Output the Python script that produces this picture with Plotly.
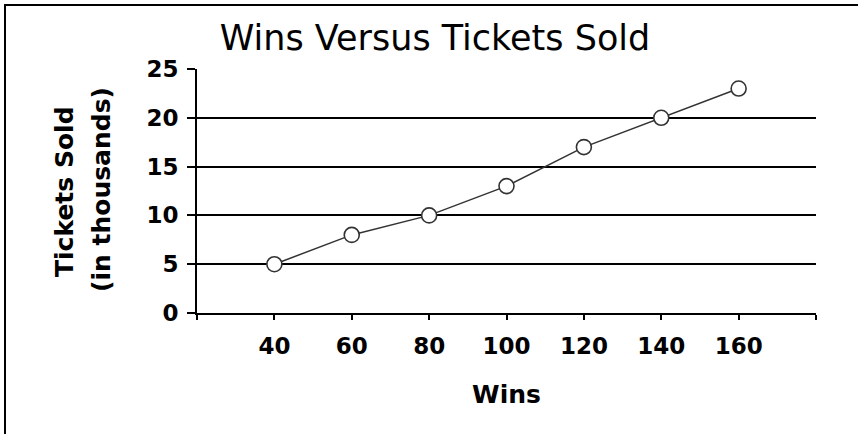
import plotly.graph_objects as go

wins = [40, 60, 80, 100, 120, 140, 160]
tickets = [5, 8, 10, 13, 17, 20, 23]
x_tickvals = [20, 40, 60, 80, 100, 120, 140, 160, 180]
x_ticktext = ["", "40", "60", "80", "100", "120", "140", "160", ""]
y_tickvals = [0, 5, 10, 15, 20, 25]

W, H = 858, 434
L, R, T, B = 197, 42, 69, 121
pw, ph = W - L - R, H - T - B

def px(x):
    return (x - L) / pw

def py(y):
    return (H - B - y) / ph

fig = go.Figure()
fig.add_trace(go.Scatter(
    x=wins, y=tickets, mode="lines+markers",
    line=dict(color="#333333", width=1.5),
    marker=dict(symbol="circle", size=15, color="white",
                line=dict(color="#333333", width=1.6)),
    showlegend=False, cliponaxis=False, hoverinfo="skip",
))

tick_font = dict(family="DejaVu Sans", size=23, color="black", weight="bold")
title_font = dict(family="DejaVu Sans", size=25, color="black", weight="bold")

fig.update_layout(
    width=W, height=H,
    margin=dict(l=L, r=R, t=T, b=B, pad=0),
    paper_bgcolor="white", plot_bgcolor="white",
    title=dict(text="Wins Versus Tickets Sold", x=435 / W, xref="container",
               xanchor="center", y=1 - 38 / H, yanchor="middle",
               font=dict(family="DejaVu Sans", size=35, color="black")),
    xaxis=dict(range=[20, 180], tickvals=x_tickvals, ticktext=x_ticktext,
               ticks="outside", ticklen=5, tickwidth=2, tickcolor="black",
               showline=True, linecolor="black", linewidth=2,
               showgrid=False, zeroline=False, tickfont=tick_font,
               ticklabelstandoff=6,
               title=dict(text="Wins", font=title_font, standoff=28)),
    yaxis=dict(range=[0, 25], tickvals=y_tickvals,
               ticks="outside", ticklen=8, tickwidth=2, tickcolor="black",
               showline=True, linecolor="black", linewidth=2,
               showgrid=True, gridcolor="black", gridwidth=2,
               zeroline=False, tickfont=tick_font, ticklabelstandoff=4),
    shapes=[dict(type="rect", xref="paper", yref="paper",
                 x0=px(5), x1=px(W + 10), y0=py(H + 10), y1=py(5),
                 line=dict(color="black", width=2), layer="above")],
    annotations=[
        dict(text="Tickets Sold", textangle=-90, xref="paper", yref="paper",
             x=px(64), y=py(192), xanchor="center", yanchor="middle",
             showarrow=False, font=title_font),
        dict(text="(in thousands)", textangle=-90, xref="paper", yref="paper",
             x=px(101), y=py(190), xanchor="center", yanchor="middle",
             showarrow=False, font=title_font),
    ],
)

fig.write_html("out.html", post_script="document.body.style.margin='0';",
               config={"displayModeBar": False})
